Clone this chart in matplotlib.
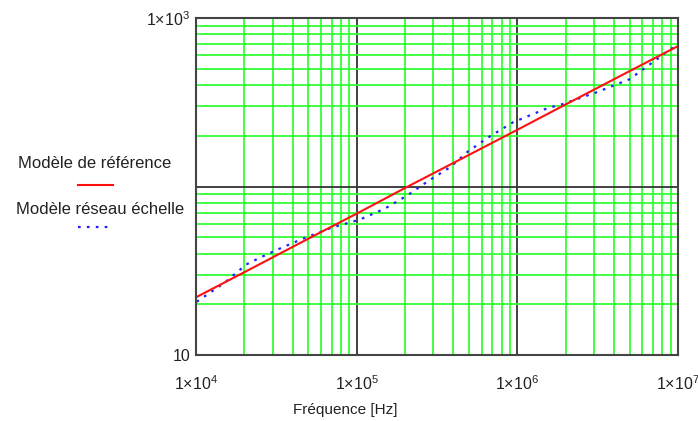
import numpy as np
import matplotlib
matplotlib.use("Agg")
import matplotlib.pyplot as plt
from matplotlib.ticker import LogLocator, NullFormatter

plt.rcParams['font.family'] = ['Liberation Sans', 'DejaVu Sans']
plt.rcParams['mathtext.fontset'] = 'custom'
plt.rcParams['mathtext.rm'] = 'Liberation Sans'
plt.rcParams['mathtext.it'] = 'Liberation Sans'

# données
freq_ref = [1e4, 2e4, 5e4, 1e5, 2e5, 5e5, 1e6, 2e6, 5e6, 1e7]
z_ref = [22.0, 31.0, 49.0, 69.0, 98.0, 154.0, 217.0, 307.0, 484.0, 681.0]

freq_ech = [1.01e4, 1.51e4, 2.05e4, 2.5e4, 3.43e4, 4.63e4, 7.0e4, 1.05e5, 1.5e5,
            2.06e5, 2.82e5, 3.8e5, 4.93e5, 6.76e5, 9.4e5, 1.53e6, 1.9e6, 3.13e6,
            5.0e6, 7.7e6, 8.9e6, 1.0e7]
z_ech = [20.7, 26.9, 34.4, 37.8, 43.4, 49.0, 57.0, 63.7, 74.0, 88.3, 108.6, 129.7,
         161.4, 198.6, 240.4, 291.1, 307.6, 363.1, 433.5, 586.1, 653.1, 680.8]

xticks = [1e4, 1e5, 1e6, 1e7]
xlabels = ['1×10$^{4}$', '1×10$^{5}$', '1×10$^{6}$', '1×10$^{7}$']
yticks = [10, 1000]
ylabels = ['10', '1×10$^{3}$']

fig = plt.figure(figsize=(6.98, 4.21), dpi=100)
ax = fig.add_axes([0.2808, 0.1568, 0.6905, 0.8004])

ax.set_xscale('log')
ax.set_yscale('log')
ax.set_xlim(1e4, 1e7)
ax.set_ylim(10, 1000)

# grille : verte pour les sous-divisions, noire pour les décades
ax.xaxis.set_minor_locator(LogLocator(base=10, subs=np.arange(2, 10)))
ax.yaxis.set_minor_locator(LogLocator(base=10, subs=np.arange(2, 10)))
ax.xaxis.set_minor_formatter(NullFormatter())
ax.yaxis.set_minor_formatter(NullFormatter())
ax.grid(which='minor', color='#33ff33', linewidth=1.3)
ax.grid(which='major', color='#333333', linewidth=1.3)
ax.axhline(100, color='#333333', linewidth=1.3, zorder=0.6)
ax.set_axisbelow(True)

ax.plot(freq_ech, z_ech, color='#2020ff', linestyle=(0, (1.2, 2.8)), linewidth=1.6)
ax.plot(freq_ref, z_ref, color='#ff1010', linewidth=1.5)

ax.set_xticks(xticks)
ax.set_xticklabels(xlabels)
ax.set_yticks(yticks)
ax.set_yticklabels(ylabels)
ax.tick_params(which='both', length=0, labelsize=11.5, colors='#222222')
ax.tick_params(axis='x', pad=14)
ax.tick_params(axis='y', pad=4)

for s in ax.spines.values():
    s.set_color('#444444')
    s.set_linewidth(1.5)

fig.text(345 / 698, 1 - 410 / 421, 'Fréquence [Hz]', ha='center', va='center',
         fontsize=11, color='#222222')

# légende à gauche
fig.text(95 / 698, 1 - 163 / 421, 'Modèle de référence', ha='center', va='center',
         fontsize=12, color='#222222')
fig.lines.append(plt.Line2D([78 / 698, 113 / 698], [1 - 185 / 421, 1 - 185 / 421],
                            transform=fig.transFigure, color='#ff1010', linewidth=1.5))
fig.text(100 / 698, 1 - 210 / 421, 'Modèle réseau échelle', ha='center', va='center',
         fontsize=12, color='#222222')
fig.lines.append(plt.Line2D([78 / 698, 108 / 698], [1 - 227 / 421, 1 - 227 / 421],
                            transform=fig.transFigure, color='#2020ff',
                            linestyle=(0, (1.2, 2.8)), linewidth=1.6))

fig.savefig('out.png', dpi=100)
